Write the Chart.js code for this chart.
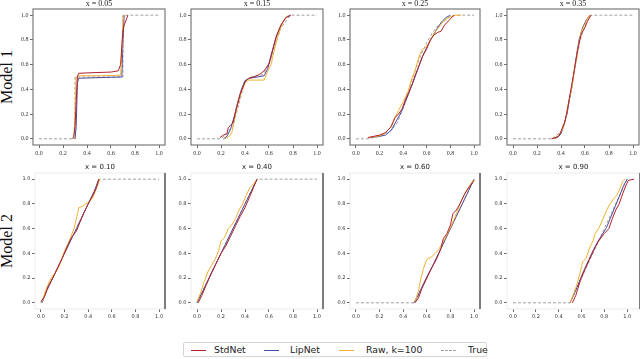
<!DOCTYPE html>
<html><head><meta charset="utf-8">
<script src="https://cdn.jsdelivr.net/npm/chart.js@4/dist/chart.umd.min.js"></script>
<style>
html,body{margin:0;padding:0;background:#fff;width:640px;height:359px;overflow:hidden;position:relative;}
canvas{position:absolute;}
.rowlab{position:absolute;font-family:"Liberation Serif",serif;font-size:16px;color:#111;transform:rotate(-90deg);white-space:nowrap;width:80px;height:16px;text-align:center;line-height:16px;}
#legend{position:absolute;left:183px;top:342px;width:304px;height:15px;border:1px solid #d4d4d4;border-radius:2px;font-family:"DejaVu Sans",sans-serif;font-size:9.3px;color:#222;box-sizing:border-box;}
#legend .ln{position:absolute;top:7px;width:15px;height:0;}
#legend .tx{position:absolute;top:1px;line-height:12px;white-space:nowrap;}
</style>
</head><body>
<div class="rowlab" style="left:-33px;top:69px;">Model 1</div>
<div class="rowlab" style="left:-33px;top:233px;">Model 2</div>
<div id="legend"></div>
<script>
// ---------- data ----------
const titles = ["x = 0.05","x = 0.15","x = 0.25","x = 0.35","x = 0.10","x = 0.40","x = 0.60","x = 0.90"];
const tickValues = [0, 0.2, 0.4, 0.6, 0.8, 1.0];
const seriesNames = ["StdNet", "LipNet", "Raw, k=100", "True"];

// Model 1, x = 0.05
const p1True = [[0,0],[0.3,0],[0.3,0.5],[0.7,0.5],[0.7,1],[1,1]];
const p1Std  = [[0.28,0],[0.29,0.02],[0.30,0.1],[0.31,0.3],[0.32,0.5],[0.33,0.53],[0.45,0.535],[0.6,0.54],[0.66,0.55],[0.68,0.6],[0.69,0.75],[0.7,0.88],[0.71,0.92],[0.73,0.97],[0.74,1.0]];
const p1Lip  = [[0.30,0],[0.31,0.1],[0.32,0.45],[0.33,0.49],[0.5,0.495],[0.69,0.5],[0.70,0.8],[0.71,1.0]];
const p1Raw  = [[0.29,0],[0.30,0.2],[0.31,0.5],[0.33,0.51],[0.5,0.51],[0.68,0.515],[0.69,0.7],[0.70,1.0]];
// Model 1, x = 0.15
const p2True = [[0,0],[0.2,0],[0.3,0.1],[0.4,0.47],[0.45,0.5],[0.55,0.52],[0.6,0.6],[0.7,0.9],[0.78,1],[1,1]];
const p2Std  = [[0.19,0.01],[0.22,0.03],[0.25,0.04],[0.26,0.09],[0.28,0.11],[0.3,0.13],[0.33,0.25],[0.36,0.36],[0.4,0.46],[0.43,0.49],[0.47,0.5],[0.52,0.52],[0.56,0.55],[0.6,0.61],[0.63,0.72],[0.66,0.83],[0.7,0.92],[0.74,0.98],[0.78,1.0]];
const p2Lip  = [[0.22,0],[0.25,0.02],[0.28,0.08],[0.31,0.18],[0.34,0.3],[0.37,0.4],[0.4,0.47],[0.44,0.49],[0.5,0.5],[0.56,0.51],[0.59,0.57],[0.62,0.68],[0.66,0.82],[0.7,0.92],[0.74,0.98],[0.78,1.0]];
const p2Raw  = [[0.23,0],[0.27,0.02],[0.29,0.05],[0.31,0.15],[0.34,0.28],[0.37,0.38],[0.4,0.45],[0.43,0.475],[0.5,0.475],[0.56,0.475],[0.57,0.5],[0.6,0.57],[0.62,0.61],[0.63,0.66],[0.66,0.78],[0.69,0.88],[0.72,0.95],[0.76,1.0]];
// Model 1, x = 0.25
const p3True = [[0,0],[0.1,0],[0.2,0.02],[0.3,0.07],[0.35,0.13],[0.4,0.25],[0.45,0.4],[0.5,0.55],[0.55,0.68],[0.6,0.78],[0.65,0.86],[0.7,0.92],[0.8,0.99],[0.85,1],[1,1]];
const p3Std  = [[0.1,0.01],[0.15,0.02],[0.2,0.03],[0.25,0.05],[0.3,0.1],[0.33,0.17],[0.36,0.2],[0.39,0.24],[0.42,0.32],[0.45,0.38],[0.48,0.45],[0.5,0.51],[0.53,0.58],[0.56,0.66],[0.6,0.73],[0.63,0.8],[0.66,0.84],[0.69,0.86],[0.72,0.87],[0.75,0.92],[0.79,0.96],[0.83,1.0]];
const p3Lip  = [[0.12,0.01],[0.2,0.02],[0.25,0.03],[0.3,0.07],[0.34,0.14],[0.38,0.21],[0.42,0.3],[0.46,0.4],[0.5,0.5],[0.53,0.58],[0.57,0.68],[0.61,0.76],[0.65,0.83],[0.68,0.88],[0.72,0.94],[0.76,0.98],[0.8,1.0]];
const p3Raw  = [[0.11,0.01],[0.18,0.02],[0.24,0.04],[0.29,0.09],[0.32,0.15],[0.36,0.23],[0.4,0.3],[0.44,0.38],[0.47,0.48],[0.5,0.55],[0.52,0.62],[0.54,0.68],[0.56,0.72],[0.59,0.74],[0.62,0.78],[0.66,0.85],[0.7,0.9],[0.74,0.95],[0.78,0.98],[0.84,1.0],[0.89,1.0]];
// Model 1, x = 0.35
const p4True = [[0,0],[0.33,0],[0.4,0.06],[0.45,0.2],[0.49,0.42],[0.52,0.6],[0.56,0.8],[0.6,0.92],[0.65,1],[1,1]];
const p4Std  = [[0.32,0],[0.35,0.01],[0.38,0.02],[0.4,0.06],[0.43,0.13],[0.45,0.22],[0.47,0.33],[0.49,0.44],[0.51,0.55],[0.53,0.67],[0.55,0.77],[0.57,0.85],[0.6,0.9],[0.62,0.95],[0.65,1.0]];
const p4Lip  = [[0.34,0],[0.37,0.01],[0.4,0.04],[0.42,0.1],[0.45,0.2],[0.47,0.32],[0.49,0.42],[0.51,0.55],[0.53,0.68],[0.55,0.8],[0.58,0.9],[0.61,0.96],[0.64,1.0]];
const p4Raw  = [[0.33,0],[0.36,0.01],[0.39,0.04],[0.42,0.09],[0.44,0.17],[0.46,0.28],[0.49,0.41],[0.51,0.54],[0.53,0.65],[0.55,0.78],[0.57,0.87],[0.6,0.93],[0.63,0.99],[0.65,1.0]];
// Model 2, x = 0.10
const p5True = [[0,0],[0.5,1],[1,1]];
const p5Std  = [[0,0.01],[0.03,0.05],[0.06,0.13],[0.1,0.2],[0.14,0.28],[0.18,0.36],[0.22,0.45],[0.26,0.53],[0.3,0.58],[0.33,0.65],[0.36,0.72],[0.4,0.8],[0.44,0.87],[0.47,0.93],[0.49,1.0]];
const p5Lip  = [[0.01,0],[0.04,0.08],[0.08,0.16],[0.12,0.24],[0.16,0.32],[0.2,0.4],[0.25,0.5],[0.3,0.6],[0.35,0.7],[0.4,0.8],[0.45,0.9],[0.49,1.0]];
const p5Raw  = [[0.01,0.01],[0.04,0.1],[0.07,0.17],[0.1,0.22],[0.13,0.25],[0.16,0.31],[0.2,0.42],[0.24,0.5],[0.28,0.6],[0.31,0.72],[0.32,0.77],[0.35,0.78],[0.38,0.8],[0.41,0.82],[0.44,0.85],[0.47,0.93],[0.5,1.0]];
// Model 2, x = 0.40
const p6True = [[0,0],[0.5,1],[1,1]];
const p6Std  = [[0.01,0],[0.04,0.06],[0.08,0.15],[0.12,0.24],[0.16,0.32],[0.2,0.4],[0.24,0.46],[0.28,0.54],[0.32,0.62],[0.36,0.7],[0.4,0.77],[0.44,0.86],[0.47,0.93],[0.5,1.0]];
const p6Lip  = [[0,0],[0.05,0.1],[0.1,0.2],[0.15,0.3],[0.2,0.4],[0.25,0.5],[0.3,0.6],[0.35,0.7],[0.4,0.8],[0.45,0.9],[0.5,1.0]];
const p6Raw  = [[0,0.01],[0.03,0.08],[0.06,0.17],[0.09,0.25],[0.12,0.3],[0.15,0.35],[0.18,0.42],[0.2,0.5],[0.23,0.53],[0.26,0.6],[0.29,0.63],[0.32,0.68],[0.35,0.75],[0.38,0.8],[0.41,0.87],[0.44,0.93],[0.48,0.97],[0.5,1.0]];
// Model 2, x = 0.60
const p7True = [[0,0],[0.5,0],[1,1]];
const p7Std  = [[0.5,0],[0.53,0.04],[0.56,0.12],[0.6,0.2],[0.64,0.28],[0.68,0.35],[0.72,0.44],[0.74,0.52],[0.77,0.56],[0.8,0.63],[0.82,0.72],[0.85,0.75],[0.88,0.8],[0.92,0.88],[0.96,0.94],[1.0,0.99]];
const p7Lip  = [[0.49,0],[0.52,0.05],[0.56,0.13],[0.6,0.21],[0.65,0.3],[0.7,0.4],[0.75,0.5],[0.8,0.6],[0.85,0.7],[0.9,0.8],[0.95,0.9],[1.0,1.0]];
const p7Raw  = [[0.5,0.01],[0.53,0.1],[0.55,0.2],[0.57,0.27],[0.59,0.33],[0.61,0.36],[0.64,0.37],[0.67,0.4],[0.7,0.43],[0.73,0.48],[0.77,0.55],[0.81,0.63],[0.85,0.72],[0.89,0.82],[0.93,0.9],[0.97,0.96],[1.0,1.0]];
// Model 2, x = 0.90
const p8True = [[0,0],[0.5,0],[1,1]];
const p8Std  = [[0.52,0],[0.55,0.06],[0.59,0.18],[0.63,0.27],[0.67,0.35],[0.71,0.43],[0.75,0.5],[0.8,0.56],[0.84,0.6],[0.87,0.68],[0.9,0.75],[0.93,0.8],[0.96,0.88],[0.99,0.95],[1.01,0.99],[1.06,1.0]];
const p8Lip  = [[0.5,0],[0.54,0.08],[0.58,0.17],[0.62,0.26],[0.66,0.34],[0.7,0.42],[0.74,0.49],[0.78,0.55],[0.82,0.61],[0.86,0.7],[0.9,0.79],[0.94,0.88],[0.97,0.95],[1.0,1.0]];
const p8Raw  = [[0.5,0],[0.53,0.07],[0.56,0.15],[0.59,0.25],[0.61,0.33],[0.64,0.36],[0.67,0.44],[0.7,0.5],[0.72,0.56],[0.75,0.6],[0.78,0.66],[0.82,0.75],[0.85,0.8],[0.88,0.84],[0.91,0.87],[0.94,0.93],[0.96,0.98],[0.98,1.0]];

// ---------- styling / layout ----------
const seriesColors = ["#b0222a", "#4b4a9e", "#f0b232", "#a0a0a0"];
const panels = [
  {d:[p1Std,p1Lip,p1Raw,p1True], L:33,  R:165, T:9,   B:145, xmin:-0.05, xmax:1.05, row:0},
  {d:[p2Std,p2Lip,p2Raw,p2True], L:191, R:323, T:9,   B:145, xmin:-0.05, xmax:1.05, row:0},
  {d:[p3Std,p3Lip,p3Raw,p3True], L:350, R:480, T:9,   B:145, xmin:-0.05, xmax:1.05, row:0},
  {d:[p4Std,p4Lip,p4Raw,p4True], L:507, R:639, T:9,   B:145, xmin:-0.05, xmax:1.05, row:0},
  {d:[p5Std,p5Lip,p5Raw,p5True], L:35,  R:165, T:173, B:309, xmin:-0.05, xmax:1.05, row:1},
  {d:[p6Std,p6Lip,p6Raw,p6True], L:191, R:323, T:173, B:309, xmin:-0.05, xmax:1.05, row:1},
  {d:[p7Std,p7Lip,p7Raw,p7True], L:350, R:480, T:173, B:309, xmin:-0.05, xmax:1.05, row:1},
  {d:[p8Std,p8Lip,p8Raw,p8True], L:507, R:640, T:173, B:309, xmin:-0.053, xmax:1.113, row:1}
];

const framePlugin = {
  id: 'frame',
  afterDatasetsDraw(chart, args, opts) {
    const a = chart.chartArea, ctx = chart.ctx;
    ctx.save();
    if (opts.row === 0) {
      ctx.strokeStyle = '#7a7a7a'; ctx.lineWidth = 1.2;
      ctx.strokeRect(a.left, a.top, a.right - a.left, a.bottom - a.top);
    } else {
      ctx.strokeStyle = '#ebebeb'; ctx.lineWidth = 1;
      ctx.strokeRect(a.left, a.top, a.right - a.left, a.bottom - a.top);
      ctx.strokeStyle = '#555'; ctx.lineWidth = 1.5;
      ctx.beginPath(); ctx.moveTo(a.right, a.top); ctx.lineTo(a.right, a.bottom); ctx.stroke();
    }
    ctx.restore();
  }
};

const LEFTW = 26, TOPH = 12, BOTH = 16, PADR = 3;
panels.forEach((p, i) => {
  const cv = document.createElement('canvas');
  const w = p.R - p.L + LEFTW + PADR, h = p.B - p.T + TOPH + BOTH;
  cv.width = w; cv.height = h;
  cv.style.left = (p.L - LEFTW) + 'px'; cv.style.top = (p.T - TOPH) + 'px';
  cv.style.width = w + 'px'; cv.style.height = h + 'px';
  document.body.appendChild(cv);
  const top = p.row === 0;
  const tickFont = top ? {family:'"Liberation Serif", serif', size:6} : {family:'"DejaVu Sans", sans-serif', size:5};
  const titleFont = top ? {family:'"Liberation Serif", serif', size:8, lineHeight:1} : {family:'"DejaVu Sans", sans-serif', size:7, lineHeight:1};
  const datasets = p.d.map((arr, k) => ({
    label: seriesNames[k],
    data: arr.map(q => ({x:q[0], y:q[1]})),
    borderColor: seriesColors[k],
    backgroundColor: seriesColors[k],
    borderWidth: 1,
    borderDash: k === 3 ? [3, 2] : [],
    pointRadius: 0,
    showLine: true,
    fill: false,
    tension: 0,
    order: [0, 2, 1, 3][k]
  }));
  const axisCommon = {
    type: 'linear',
    grid: {display: true, drawOnChartArea: false, drawTicks: true, tickLength: 3, color: '#444', lineWidth: 0.8},
    border: {display: false},
    afterBuildTicks: s => { s.ticks = tickValues.map(v => ({value: v})); },
    ticks: {font: tickFont, color: '#333', padding: 1.5, callback: v => Number(v).toFixed(1), maxRotation: 0, autoSkip: false}
  };
  new Chart(cv, {
    type: 'scatter',
    data: {datasets},
    options: {
      responsive: false, animation: false, devicePixelRatio: 1,
      layout: {padding: {left: 0, top: TOPH, right: PADR, bottom: 0}},
      plugins: {
        legend: {display: false}, tooltip: {enabled: false},
        title: {display: false},
        frame: {row: p.row},
        subtitle: {display: false}
      },
      scales: {
        x: Object.assign({}, axisCommon, {position: 'bottom', min: p.xmin, max: p.xmax,
              afterFit: s => { s.height = BOTH; }}),
        y: Object.assign({}, axisCommon, {position: 'left', min: -0.05, max: 1.05,
              afterFit: s => { s.width = LEFTW; }})
      }
    },
    plugins: [framePlugin, {
      id: 'ttl',
      afterDraw(chart) {
        const a = chart.chartArea, ctx = chart.ctx;
        ctx.save();
        ctx.font = (titleFont.size) + 'px ' + titleFont.family;
        ctx.fillStyle = '#222'; ctx.textAlign = 'center'; ctx.textBaseline = 'middle';
        ctx.fillText(titles[i], (a.left + a.right) / 2, a.top - (top ? 5 : 6));
        ctx.restore();
      }
    }]
  });
});

// legend
const legendPos = [{line:7, text:30}, {line:80, text:106}, {line:155, text:182}, {line:257, text:284}];
const lg = document.getElementById('legend');
seriesNames.forEach((n, k) => {
  const ln = document.createElement('div'); ln.className = 'ln';
  ln.style.left = legendPos[k].line + 'px';
  ln.style.borderTop = '1px ' + (k === 3 ? 'dashed ' : 'solid ') + seriesColors[k];
  lg.appendChild(ln);
  const tx = document.createElement('div'); tx.className = 'tx';
  tx.style.left = legendPos[k].text + 'px'; tx.textContent = n;
  lg.appendChild(tx);
});
</script>
</body></html>
